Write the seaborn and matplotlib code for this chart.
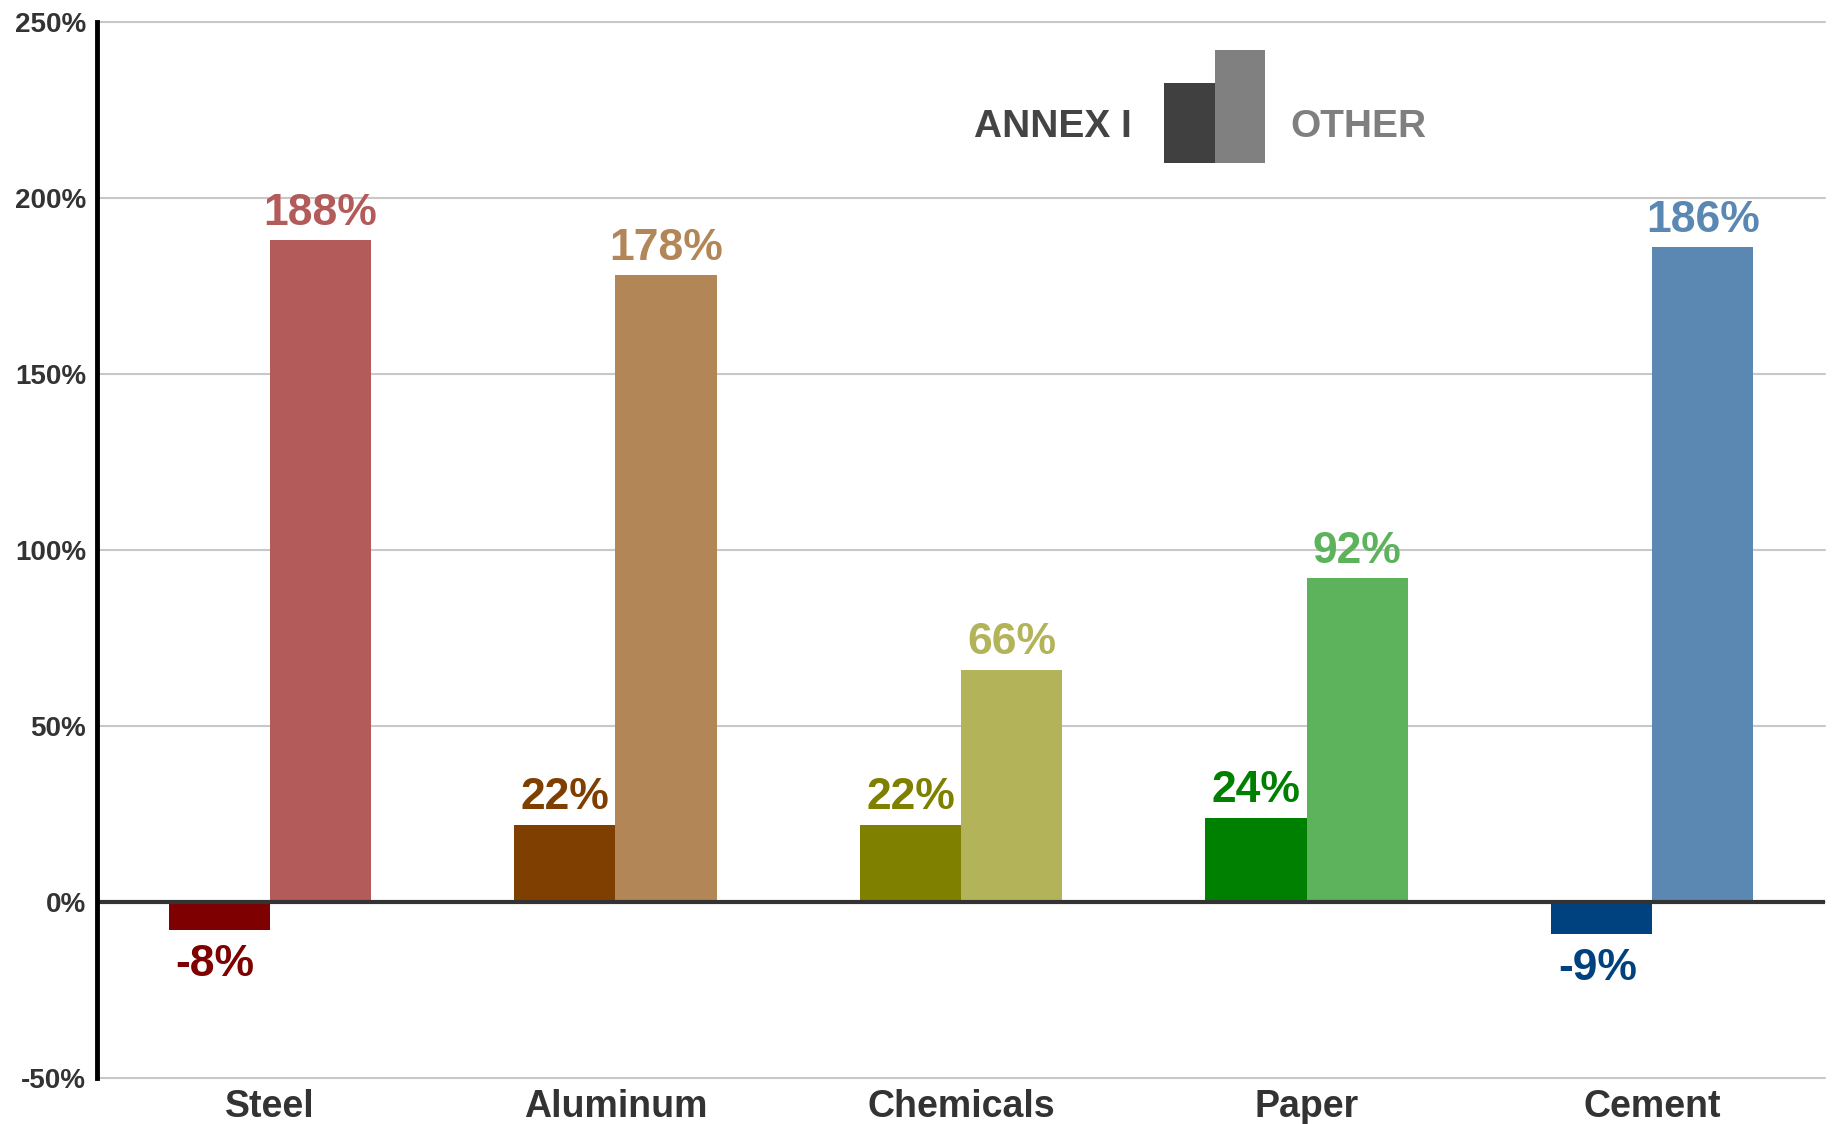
import seaborn as sns
import matplotlib.pyplot as plt
import matplotlib.patches as mpatches
import pandas as pd

categories = ["Steel", "Aluminum", "Chemicals", "Paper", "Cement"]
groups = ["ANNEX I", "OTHER"]
annex_values = [-8, 22, 22, 24, -9]
other_values = [188, 178, 66, 92, 186]
yticks = [-50, 0, 50, 100, 150, 200, 250]
annex_colors = ["#7f0000", "#7f3f00", "#7f7f00", "#008000", "#00427f"]
other_colors = ["#b35a5a", "#b38658", "#b3b35a", "#5cb35c", "#5b88b3"]
legend_colors = ["#404040", "#808080"]

df = pd.DataFrame({
    "category": categories * 2,
    "group": [groups[0]] * len(categories) + [groups[1]] * len(categories),
    "value": annex_values + other_values,
})

sns.set_theme(style="white")
plt.rcParams['font.family'] = ['Liberation Sans', 'DejaVu Sans']

fig = plt.figure(figsize=(18.35, 11.24), dpi=100)
ax = fig.add_axes([0.0529, 0.0409, 0.9416, 0.9395])

sns.barplot(data=df, x="category", y="value", hue="group", order=categories,
            hue_order=groups, width=0.585, gap=0, ax=ax, legend=False,
            saturation=1, errorbar=None)

for container, colors in zip(ax.containers, [annex_colors, other_colors]):
    for bar, c in zip(container, colors):
        bar.set_facecolor(c)
        bar.set_edgecolor("none")
        h = bar.get_height()
        x = bar.get_x() + bar.get_width() / 2
        if h >= 0:
            ax.annotate(f"{h:.0f}%", (x, h), xytext=(0, 11), textcoords="offset points",
                        ha="center", va="baseline", fontsize=32, fontweight="bold", color=c)
        else:
            ax.annotate(f"{h:.0f}%", (x, h), xytext=(-3, -10), textcoords="offset points",
                        ha="center", va="top", fontsize=32, fontweight="bold", color=c)

ax.set_xlim(-0.5, 4.5)
ax.set_ylim(-50, 250)
ax.set_yticks(yticks)
ax.set_yticklabels([f"{v}%" for v in yticks])
ax.set_xlabel("")
ax.set_ylabel("")
ax.yaxis.grid(True, color="#c8c8c8", lw=1.5)
ax.set_axisbelow(True)
for gl in ax.get_ygridlines():
    gl.set_clip_on(False)
ax.axhline(0, color="#333333", lw=3, zorder=3)
for s in ["top", "right", "bottom"]:
    ax.spines[s].set_visible(False)
ax.spines["left"].set_color("black")
ax.spines["left"].set_linewidth(3.5)
ax.spines["left"].set_zorder(4)
ax.tick_params(axis="y", length=0, pad=8, labelsize=20, labelcolor="#333333")
ax.tick_params(axis="x", length=0, pad=8, labelsize=27, labelcolor="#333333")
for lab in ax.get_yticklabels() + ax.get_xticklabels():
    lab.set_fontweight("bold")

# legend-like key
ax.add_patch(mpatches.Rectangle((0.6173, 0.8665), 0.0297, 0.0758, transform=ax.transAxes,
                                facecolor=legend_colors[0], edgecolor="none", clip_on=False))
ax.add_patch(mpatches.Rectangle((0.6470, 0.8665), 0.0292, 0.107, transform=ax.transAxes,
                                facecolor=legend_colors[1], edgecolor="none", clip_on=False))
ax.text(0.5990, 0.9006, groups[0], transform=ax.transAxes, ha="right", va="center",
        fontsize=28, fontweight="bold", color="#444444")
ax.text(0.6904, 0.9006, groups[1], transform=ax.transAxes, ha="left", va="center",
        fontsize=28, fontweight="bold", color="#7f7f7f")

fig.savefig("out.png", dpi=100, facecolor="white")
